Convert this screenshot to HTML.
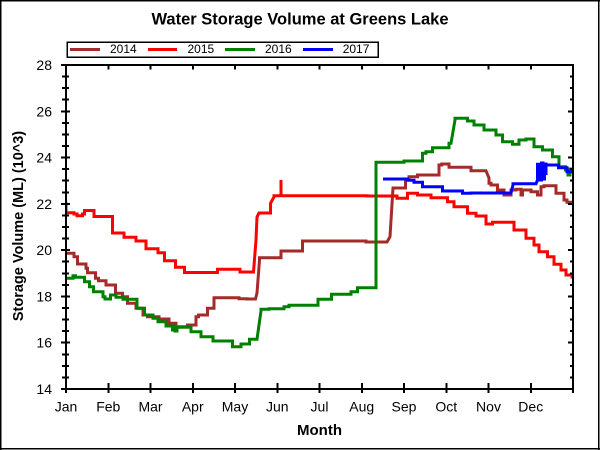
<!DOCTYPE html>
<html>
<head>
<meta charset="utf-8">
<style>
  html, body { margin: 0; padding: 0; background: #fff; }
  body { width: 600px; height: 450px; overflow: hidden; }
  svg { display: block; }
  text { font-family: "Liberation Sans", Arial, sans-serif; fill: #000; }
</style>
</head>
<body>
<svg width="600" height="450" viewBox="0 0 600 450" xmlns="http://www.w3.org/2000/svg">
  <rect x="0" y="0" width="600" height="450" fill="#fff"/>
  <!-- outer border -->
  <path d="M0.5,0V450M0,0.5H600M598.5,0V450M0,448.5H600" stroke="#000" stroke-width="1.5" fill="none" shape-rendering="crispEdges"/>

  <!-- title -->
  <text x="300" y="24.3" font-size="16.5" font-weight="bold" text-anchor="middle">Water Storage Volume at Greens Lake</text>

  <!-- legend -->
  <rect x="67" y="42" width="311" height="15" fill="#fff" stroke="#000" stroke-width="1.5" shape-rendering="crispEdges"/>
  <line x1="70" y1="49.5" x2="100" y2="49.5" stroke="#a52a2a" stroke-width="3"/>
  <text x="110" y="53" font-size="12">2014</text>
  <line x1="148" y1="49.5" x2="177" y2="49.5" stroke="#ff0000" stroke-width="3"/>
  <text x="187.5" y="53" font-size="12">2015</text>
  <line x1="225" y1="49.5" x2="255" y2="49.5" stroke="#008000" stroke-width="3"/>
  <text x="265" y="53" font-size="12">2016</text>
  <line x1="303" y1="49.5" x2="333" y2="49.5" stroke="#0000ff" stroke-width="3"/>
  <text x="342.7" y="53" font-size="12">2017</text>

  <defs>
    <clipPath id="plot"><rect x="66" y="65" width="507" height="324"/></clipPath>
  </defs>

  <!-- series -->
  <g clip-path="url(#plot)" fill="none" stroke-width="3" stroke-linejoin="miter">
    <!-- 2014 -->
    <path stroke="#a52a2a" d="M66,253.3 H74 V256.7 H77.5 V264 H86 V268.3 H87.5 V272.7 H95.5 V278.3 H98.5 V280.7 H106 V285 H115.5 V293.3 H122.5 V296.7 H127.5 V303.3 H136 V308.3 H143 V315 H147.5 V316.7 H159 V319 H169 V323.3 H176 V326.7 H187.5 V325 H196 V316.7 H198.5 V315 H207.5 V308.3 H214 V297.7 H239 V298.7 H247 V299 H255.5 L257,293 L259.5,260 V257.7 H281 V251 H302.5 V241 H366 V242 H387 L390,236.7 L393,188 H405.5 V179 H409 V176.7 H417.5 V175 H439 V165 H441.7 V164 H449 V167.3 H471 V170.7 H486 L489,178 V183.3 H491 V185 H497.5 V190 H504 V195 H511 V190 H516 V189.3 H521 V195 H522.5 V190 H531 V191.7 H537.5 V195 H541 V186.7 H544 V185.7 H556 V193.3 H564 V200 H567 V202.3 H574"/>
    <!-- 2015 -->
    <path stroke="#ff0000" d="M66,202 V212.7 H74 V214 H77 V215.7 H82.5 V214 H84.5 V210.5 H94 V216.5 H112.5 V233 H124 V237.3 H136 V241 H146 V248.7 H158 V252.7 H164.5 V260.7 H175.5 V267.3 H184.5 V272.5 H217.5 V269.3 H240 V272 H253.5 L256,240 L257,217 L259,213 H270.5 V203.3 L274,197 V195.7 H281 V180 V195.7 H367 V196 H397 V198.3 H407.5 V193.3 H417.5 V195 H431 V197.7 H447.5 V201.7 H454 V206.7 H467.5 V213.3 H476 V216 H486 V224 H492.5 V222.3 H514 V230 H526 V238.3 H534 V245 H539 V251.7 H547.5 V256.7 H554 V264.3 H561 V270 H566 V275 H572 V277 H574"/>
    <!-- 2016 -->
    <path stroke="#008000" d="M66,278.3 H73 V275.7 H75.5 V277.3 H84.5 V281.7 H89.5 V286.7 H93.5 V291.7 H103 V296.7 H105 V299 H110.5 V295 H116 V297.3 H123 V299.3 H137 V308.3 H144.5 V315 H153 V318.3 H158 V321.7 H166 V326 H172.5 V330 H174 V326 H175 V331 H177 V327.3 H191 V331.7 H201 V336.7 H213 V341 H232.5 V346.7 H241 V344 H249.5 V339.3 H257 L259,325 L261,311 V309.3 H269 V308.7 H284 V306.7 H289 V305.3 H318 V299.3 H331.5 V294.3 H351 V291.7 H357.5 V287.7 H376 V162.3 H404 V161 H422.5 V153.3 H426 V151.7 H432.5 V147.7 H449 V143.3 H451 L455,120 V118.3 H467.5 V121 H474 V125 H484 V130 H496 V135 H502.5 V141.7 H512.5 V144.3 H519 V140 H526 V139 H534 V146.7 H542.5 V150 H552.5 V156.7 H559 V166.7 H565.5 V170 H568 V175 H570 V169 H574"/>
    <!-- 2017 -->
    <path stroke="#0000ff" d="M383,179 H407.5 V180.3 H414 V182.3 H422.5 V186.7 H442.5 V191 H462.5 V193.3 H471 V193 H511 L513,185 V183.7 H536 L537.5,180 V164.3 H540 V180 H541.5 V163 H543 V179 H544.5 V164 H546 V175 V165 H558.5 V167.7 H567 V171.7 H574"/>
  </g>

  <!-- axes frame -->
  <path d="M66,65H573V389H66Z" fill="none" stroke="#000" stroke-width="2" shape-rendering="crispEdges"/>

  <!-- ticks -->
  <g stroke="#000" stroke-width="2" fill="none" shape-rendering="crispEdges">
    <path d="M61,65H70M61,111.3H70M61,157.6H70M61,203.9H70M61,250.1H70M61,296.4H70M61,342.7H70M61,389H70"/>
    <path d="M62,76.6H69M62,88.1H69M62,99.7H69M62,122.9H69M62,134.4H69M62,146H69M62,169.1H69M62,180.7H69M62,192.3H69M62,215.4H69M62,227H69M62,238.6H69M62,261.7H69M62,273.3H69M62,284.9H69M62,308H69M62,319.6H69M62,331.1H69M62,354.3H69M62,365.9H69M62,377.4H69"/>
    <path d="M568,111.3H573M568,157.6H573M568,203.9H573M568,250.1H573M568,296.4H573M568,342.7H573"/>
    <path d="M570,76.6H573M570,88.1H573M570,99.7H573M570,122.9H573M570,134.4H573M570,146H573M570,169.1H573M570,180.7H573M570,192.3H573M570,215.4H573M570,227H573M570,238.6H573M570,261.7H573M570,273.3H573M570,284.9H573M570,308H573M570,319.6H573M570,331.1H573M570,354.3H573M570,365.9H573M570,377.4H573"/>
    <path d="M108.25,65V69.5M150.5,65V69.5M192.75,65V69.5M235,65V69.5M277.25,65V69.5M319.5,65V69.5M361.75,65V69.5M404,65V69.5M446.25,65V69.5M488.5,65V69.5M530.75,65V69.5"/>
    <path d="M66,383V393M108.25,383V393M150.5,383V393M192.75,383V393M235,383V393M277.25,383V393M319.5,383V393M361.75,383V393M404,383V393M446.25,383V393M488.5,383V393M530.75,383V393M573,383V393"/>
  </g>

  <!-- y tick labels -->
  <g font-size="14" text-anchor="end">
    <text x="52" y="70">28</text>
    <text x="52" y="116.3">26</text>
    <text x="52" y="162.6">24</text>
    <text x="52" y="208.9">22</text>
    <text x="52" y="255.1">20</text>
    <text x="52" y="301.4">18</text>
    <text x="52" y="347.7">16</text>
    <text x="52" y="394">14</text>
  </g>

  <!-- month labels -->
  <g font-size="14" text-anchor="middle">
    <text x="66" y="411.5">Jan</text>
    <text x="108.25" y="411.5">Feb</text>
    <text x="150.5" y="411.5">Mar</text>
    <text x="192.75" y="411.5">Apr</text>
    <text x="235" y="411.5">May</text>
    <text x="277.25" y="411.5">Jun</text>
    <text x="319.5" y="411.5">Jul</text>
    <text x="361.75" y="411.5">Aug</text>
    <text x="404" y="411.5">Sep</text>
    <text x="446.25" y="411.5">Oct</text>
    <text x="488.5" y="411.5">Nov</text>
    <text x="530.75" y="411.5">Dec</text>
  </g>

  <!-- axis titles -->
  <text x="319.5" y="435" font-size="15" font-weight="bold" text-anchor="middle">Month</text>
  <text transform="translate(23,226) rotate(-90)" x="0" y="0" font-size="14.5" font-weight="bold" text-anchor="middle">Storage Volume (ML) (10^3)</text>
</svg>
</body>
</html>
